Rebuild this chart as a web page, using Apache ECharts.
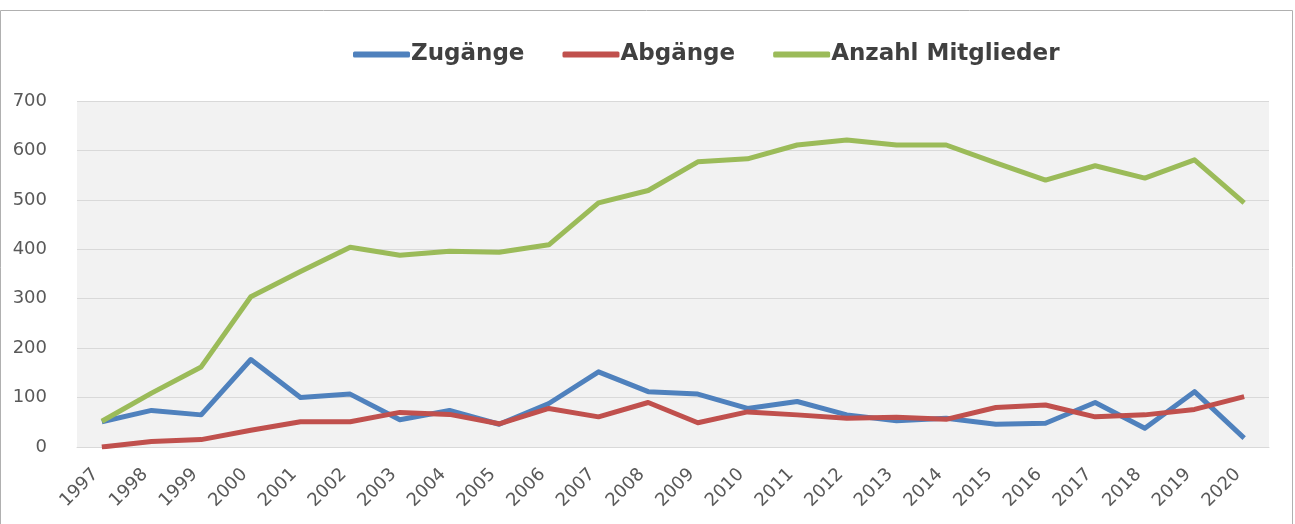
<!DOCTYPE html>
<html>
<head>
<meta charset="utf-8">
<script src="https://cdn.jsdelivr.net/npm/echarts@6.0.0/dist/echarts.min.js"></script>
<style>
  html, body { margin: 0; padding: 0; background: #fff; }
  #chart { width: 1295px; height: 524px; }
</style>
</head>
<body>
<div id="chart"></div>
<script>
const years = ['1997', '1998', '1999', '2000', '2001', '2002', '2003', '2004', '2005', '2006', '2007', '2008',
  '2009', '2010', '2011', '2012', '2013', '2014', '2015', '2016', '2017', '2018', '2019', '2020'];
const zugaenge = [51, 74, 65, 177, 100, 107, 55, 74, 46, 88, 152, 112, 107, 78, 92, 65, 53, 58, 46, 48, 90, 38, 112, 18];
const abgaenge = [0, 11, 15, 34, 51, 51, 70, 66, 47, 78, 61, 90, 49, 71, 65, 58, 60, 56, 80, 85, 61, 65, 76, 102];
const mitglieder = [52, 109, 162, 304, 355, 404, 388, 396, 394, 409, 494, 519, 577, 583, 611, 621, 611, 611, 575, 540, 569, 544, 581, 494];
const yTicks = [0, 100, 200, 300, 400, 500, 600, 700];

const font = 'DejaVu Sans';
const chart = echarts.init(document.getElementById('chart'), null, { renderer: 'canvas' });

function line(name, data, color) {
  return {
    name: name,
    type: 'line',
    data: data,
    symbol: 'none',
    lineStyle: { color: color, width: 5, join: 'round' },
    itemStyle: { color: color }
  };
}

chart.setOption({
  animation: false,
  backgroundColor: '#ffffff',
  graphic: [{
    type: 'rect',
    shape: { x: 0.5, y: 10.5, width: 1292, height: 530 },
    style: { fill: 'none', stroke: '#b0b0b0', lineWidth: 1 },
    silent: true
  }],
  legend: {
    top: 38,
    left: 348,
    itemWidth: 57,
    itemHeight: 6,
    itemGap: 38,
    icon: 'roundRect',
    textStyle: { fontFamily: font, fontWeight: 'bold', fontSize: 23, color: '#404040', padding: [0, 0, 0, -4] },
    data: ['Zugänge', 'Abgänge', 'Anzahl Mitglieder']
  },
  grid: {
    left: 77, right: 26, top: 101, bottom: 77,
    show: true, backgroundColor: '#f2f2f2', borderWidth: 0
  },
  xAxis: {
    type: 'category',
    data: years,
    boundaryGap: true,
    axisLine: { lineStyle: { color: '#d9d9d9', width: 1 } },
    axisTick: { show: false },
    axisLabel: { rotate: 45, fontFamily: font, fontSize: 18, color: '#595959', margin: 31, verticalAlign: 'bottom' }
  },
  yAxis: {
    type: 'value',
    min: yTicks[0],
    max: yTicks[yTicks.length - 1],
    interval: 100,
    axisLine: { show: false },
    axisTick: { show: false },
    axisLabel: { fontFamily: font, fontSize: 18, color: '#595959', margin: 30 },
    splitLine: { lineStyle: { color: '#d9d9d9', width: 1 } }
  },
  series: [
    line('Zugänge', zugaenge, '#4f81bd'),
    line('Abgänge', abgaenge, '#c0504d'),
    line('Anzahl Mitglieder', mitglieder, '#9bbb59')
  ]
});
</script>
</body>
</html>
